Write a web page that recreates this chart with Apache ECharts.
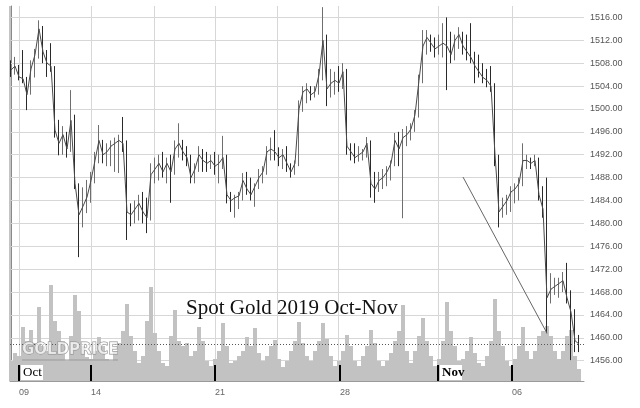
<!DOCTYPE html>
<html>
<head>
<meta charset="utf-8">
<title>Spot Gold 2019 Oct-Nov</title>
<script src="https://cdn.jsdelivr.net/npm/echarts@6/dist/echarts.min.js"></script>
<style>
html, body { margin: 0; padding: 0; background: #fff; }
#chart { width: 640px; height: 408px; }
</style>
</head>
<body>
<div id="chart"></div>
<script>
// spot gold bars, late Oct 8 -> Nov 8 2019 (x = bar number)
const firstOpen = 1507.0
const closes = [
    1506.8, 1507.5, 1505.6, 1505.3, 1502.5, 1507.0, 1509.5, 1514.0, 1510.0, 1508.0,
    1507.5, 1496.3, 1494.0, 1495.5, 1493.0, 1498.0, 1487.0, 1481.5, 1483.0, 1484.6,
    1487.5, 1491.0, 1494.5, 1492.0, 1492.5, 1493.5, 1494.0, 1494.5, 1494.0, 1482.0,
    1481.5, 1482.5, 1483.5, 1482.0, 1481.0, 1488.5, 1489.5, 1490.5, 1489.0, 1490.5,
    1489.0, 1493.0, 1494.0, 1492.5, 1491.5, 1488.0, 1489.5, 1492.0, 1491.0, 1490.5,
    1491.0, 1490.0, 1490.5, 1491.5, 1485.0, 1484.0, 1484.5, 1484.8, 1487.5, 1486.0,
    1485.0, 1486.5, 1488.0, 1489.0, 1492.5, 1493.0, 1492.5, 1491.5, 1492.0, 1490.5,
    1489.0, 1490.5, 1500.0, 1503.0, 1503.5, 1502.5, 1503.0, 1506.0, 1512.0, 1503.5,
    1504.5, 1505.0, 1504.5, 1506.5, 1493.5, 1492.5, 1491.5, 1492.0, 1492.5, 1494.0,
    1487.0, 1486.0, 1487.5, 1488.0, 1489.0, 1490.5, 1494.5, 1493.0, 1495.0, 1495.5,
    1496.5, 1499.0, 1505.0, 1511.0, 1512.5, 1511.5, 1510.5, 1511.0, 1511.5, 1511.0,
    1509.5, 1512.0, 1513.0, 1511.0, 1510.0, 1509.0, 1507.5, 1506.5, 1505.5, 1505.0,
    1504.0, 1492.0, 1482.0, 1483.0, 1484.0, 1485.5, 1486.0, 1487.0, 1491.0, 1491.0,
    1490.5, 1491.0, 1485.0, 1482.5, 1467.0, 1468.5, 1469.0, 1469.5, 1470.0, 1467.0,
    1464.5, 1459.5, 1458.9
]
const highs = [
    1508.5, 1509.1, 1507.7, 1510.3, 1505.6, 1508.5, 1510.5, 1515.5, 1514.5, 1510.3,
    1511.5, 1506.0, 1498.1, 1497.0, 1496.0, 1503.3, 1499.0, 1486.3, 1486.3, 1487.6,
    1489.0, 1492.5, 1497.2, 1494.6, 1494.0, 1494.5, 1495.0, 1495.5, 1498.6, 1494.5,
    1483.5, 1484.0, 1485.0, 1485.5, 1484.5, 1490.5, 1491.5, 1492.0, 1492.5, 1491.5,
    1492.0, 1494.5, 1497.5, 1494.6, 1493.5, 1492.0, 1490.5, 1493.5, 1493.0, 1492.5,
    1492.0, 1492.5, 1492.0, 1495.3, 1492.0, 1485.5, 1485.0, 1485.5, 1488.8, 1489.0,
    1488.0, 1487.0, 1489.5, 1490.0, 1493.5, 1495.0, 1496.3, 1493.3, 1493.0, 1493.5,
    1490.5, 1491.0, 1501.5, 1504.0, 1504.5, 1504.0, 1504.0, 1507.0, 1517.8, 1513.0,
    1507.0, 1506.5, 1507.5, 1508.0, 1507.0, 1494.0, 1494.0, 1493.5, 1493.0, 1495.1,
    1494.5, 1489.0, 1489.0, 1489.5, 1490.0, 1491.0, 1495.8, 1496.0, 1496.5, 1497.0,
    1497.5, 1499.8, 1506.0, 1513.8, 1513.8, 1513.0, 1512.5, 1513.0, 1515.0, 1516.0,
    1513.5, 1513.0, 1514.3, 1513.5, 1513.0, 1515.0, 1510.0, 1509.5, 1508.0, 1507.0,
    1507.5, 1504.5, 1492.0, 1484.5, 1485.0, 1486.5, 1487.0, 1488.0, 1494.0, 1492.0,
    1491.5, 1492.0, 1491.5, 1486.5, 1488.0, 1471.3, 1470.5, 1470.5, 1471.5, 1473.1,
    1468.3, 1465.0, 1460.5
]
const lows = [
    1505.6, 1506.0, 1505.0, 1504.5, 1499.8, 1503.8, 1505.5, 1508.8, 1508.0, 1505.6,
    1506.5, 1495.0, 1491.9, 1492.0, 1491.5, 1492.5, 1486.0, 1474.1, 1479.3, 1481.8,
    1483.6, 1487.0, 1490.5, 1490.5, 1490.0, 1490.0, 1489.0, 1488.8, 1492.5, 1477.1,
    1479.5, 1480.0, 1480.5, 1480.0, 1478.3, 1480.5, 1487.0, 1487.5, 1488.0, 1487.0,
    1483.6, 1488.5, 1491.5, 1491.0, 1490.0, 1487.0, 1487.0, 1489.0, 1489.0, 1489.0,
    1489.5, 1488.5, 1487.0, 1489.5, 1483.5, 1482.0, 1481.0, 1482.5, 1484.0, 1485.0,
    1484.0, 1482.9, 1486.0, 1487.0, 1488.5, 1491.0, 1491.0, 1490.0, 1489.5, 1489.0,
    1488.0, 1488.5, 1490.0, 1499.5, 1501.0, 1501.5, 1502.0, 1502.5, 1505.0, 1500.5,
    1502.0, 1502.5, 1503.0, 1503.5, 1492.0, 1491.0, 1490.5, 1490.8, 1491.0, 1491.5,
    1484.5, 1483.6, 1485.5, 1486.0, 1486.5, 1487.5, 1490.0, 1490.0, 1480.9, 1493.5,
    1494.5, 1496.0, 1498.5, 1504.5, 1509.5, 1510.0, 1509.0, 1509.5, 1509.0, 1503.3,
    1508.0, 1508.5, 1510.5, 1509.5, 1508.5, 1508.0, 1504.5, 1505.5, 1504.5, 1503.8,
    1503.0, 1490.0, 1479.3, 1481.0, 1481.5, 1482.0, 1483.5, 1484.0, 1486.5, 1489.5,
    1489.5, 1490.0, 1484.0, 1481.0, 1460.8, 1466.0, 1467.5, 1467.0, 1468.0, 1466.0,
    1456.1, 1457.5, 1457.5
]
const volumes = [
    200, 280, 250, 540, 400, 510, 380, 740, 350, 300,
    960, 600, 500, 400, 200, 450, 860, 700, 350, 240,
    220, 300, 440, 350, 220, 200, 300, 380, 500, 770,
    450, 300, 180, 250, 600, 940, 480, 300, 180, 150,
    450, 710, 400, 350, 380, 250, 300, 540, 400, 200,
    150, 220, 300, 580, 350, 180, 200, 250, 300, 440,
    350, 530, 280, 200, 250, 350, 410, 220, 140, 200,
    300, 400, 590, 380, 250, 200, 300, 400, 580, 420,
    250, 150, 200, 300, 460, 350, 200, 150, 250, 350,
    510, 380, 200, 150, 200, 280, 400, 500, 760, 300,
    180, 300, 450, 630, 400, 250, 150, 220, 400, 790,
    500, 350, 200, 220, 300, 440, 280, 180, 150, 250,
    400, 820, 500, 350, 200, 150, 220, 350, 540, 300,
    220, 300, 450, 500, 550, 450, 300, 220, 300, 450,
    510, 250, 120
]

// axis marks, in bar numbers
const priceTicks = [1456, 1460, 1464, 1468, 1472, 1476, 1480, 1484, 1488, 1492, 1496, 1500, 1504, 1508, 1512, 1516]
const gridCols = [2, 20, 35.75, 51, 66.5, 81.75, 106.75, 125.25]
const weekMarks = [2, 20, 51, 82.25, 106.75, 125.25]
const dayLabels = ['09', '14', '21', '28', '06']
const dayLabelPos = [2, 20, 51, 82.25, 125.25]
const months = ['Oct', 'Nov']
const monthPos = [2, 106.75]
const trendLine = [[113, 1488.1], [134, 1460.8]]

let ohlc = closes.map((c, i) => {
    let o = i === 0 ? firstOpen : closes[i - 1]
    return [i, o, c, Math.min(lows[i], o, c), Math.max(highs[i], o, c)]
})
let lastClose = closes[closes.length - 1]

let chart = echarts.init(document.getElementById('chart'))

chart.setOption({
    animation: false,
    backgroundColor: '#fff',
    grid: { left: 10, right: 56, top: 6, bottom: 27 },
    xAxis: {
        type: 'value',
        min: -0.25,
        max: 143.25,
        axisLine: { lineStyle: { color: '#9a9a9a' } },
        axisTick: { show: false },
        axisLabel: {
            customValues: dayLabelPos,
            formatter: v => dayLabels[dayLabelPos.indexOf(v)] || '',
            align: 'left',
            margin: 7,
            fontSize: 9,
            fontFamily: 'Liberation Sans',
            color: '#666'
        },
        splitLine: { show: false }
    },
    yAxis: [
        {
            type: 'value',
            position: 'right',
            min: 1452.45,
            max: 1518,
            axisLine: { show: true, lineStyle: { color: '#8a8a8a' } },
            axisTick: { show: true, customValues: priceTicks, length: 4, lineStyle: { color: '#8a8a8a' } },
            axisLabel: {
                customValues: priceTicks,
                formatter: v => v.toFixed(2),
                margin: 6,
                fontSize: 9,
                fontFamily: 'Liberation Sans',
                color: '#555'
            },
            splitLine: { show: false }
        },
        { type: 'value', min: 0, max: 3750, show: false }
    ],
    series: [
        {
            // grid lines only
            name: 'grid',
            type: 'line',
            data: [],
            markLine: {
                z: 1,
                silent: true,
                symbol: 'none',
                label: { show: false },
                lineStyle: { color: '#d7d7d7', width: 1, type: 'solid' },
                data: [
                    ...gridCols.map(x => ({ xAxis: x })),
                    ...priceTicks.map(p => ({ yAxis: p })),
                    { xAxis: -0.25, lineStyle: { color: '#c4c4c4', width: 2 } }
                ]
            }
        },
        {
            name: 'Volume',
            type: 'bar',
            yAxisIndex: 1,
            z: 2,
            barWidth: 4,
            data: volumes.map((v, i) => [i, v]),
            itemStyle: { color: '#c2c2c2' }
        },
        {
            name: 'Spot Gold',
            type: 'candlestick',
            z: 3,
            barWidth: 1,
            data: ohlc,
            encode: { x: 0, y: [1, 2, 3, 4] },
            itemStyle: {
                color: '#8a8a8a',
                color0: '#333',
                borderColor: '#6e6e6e',
                borderColor0: '#2a2a2a',
                borderWidth: 1
            },
            markLine: {
                silent: true,
                symbol: 'none',
                label: { show: false },
                data: [
                    { yAxis: lastClose, lineStyle: { color: '#555', width: 1, type: [1, 2] } },
                    [
                        { coord: trendLine[0], lineStyle: { color: '#666', width: 1, type: 'solid' } },
                        { coord: trendLine[1] }
                    ]
                ]
            }
        },
        {
            name: 'Close',
            type: 'line',
            z: 4,
            symbol: 'none',
            data: closes.map((c, i) => [i, c]),
            lineStyle: { color: '#4a4a4a', width: 1 }
        }
    ]
})

// week marks, month markers, logo and title
let toPx = (x, y) => chart.convertToPixel({ gridIndex: 0 }, [x, y])
let yBase = toPx(0, 1452.45)[1]
let graphics = weekMarks.map(w => {
    let p = toPx(w, 1452.45)
    return { type: 'rect', z: 20, shape: { x: p[0] - 1, y: yBase - 16, width: 2, height: 16 }, style: { fill: '#000' } }
})
months.forEach((m, k) => {
    let p = toPx(monthPos[k], 1452.45)
    graphics.push(
        { type: 'rect', z: 20, shape: { x: p[0] + 2, y: yBase - 16, width: 22, height: 15 }, style: { fill: '#fff' } },
        { type: 'text', z: 21, x: p[0] + 4, y: yBase - 15, style: { text: m, font: (k ? 'bold ' : '') + '13px "Liberation Serif"', fill: '#000' } }
    )
})
graphics.push(
    {
        type: 'text', x: 22, y: 343, z: 15,
        style: { text: 'GOLDPRICE', font: 'bold 15px "DejaVu Sans"', fill: 'rgba(255,255,255,0.7)', stroke: '#8c8c8c', lineWidth: 1 }
    },
    { type: 'line', z: 15, shape: { x1: 22, y1: 360, x2: 118, y2: 360 }, style: { stroke: '#999', lineWidth: 1 } },
    {
        type: 'text', x: 186, y: 298, z: 20,
        style: { text: 'Spot Gold 2019 Oct-Nov', font: '21px "Liberation Serif"', fill: '#111' }
    }
)
chart.setOption({ graphic: graphics })
</script>
</body>
</html>
